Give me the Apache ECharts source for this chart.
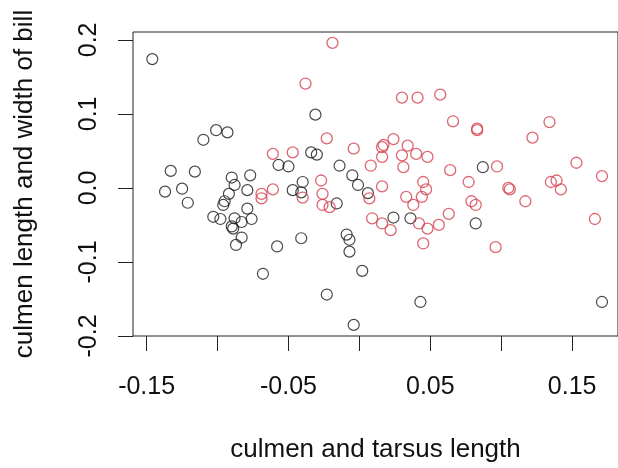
<!DOCTYPE html>
<html lang="en">
<head>
    <meta charset="UTF-8">
    <title>culmen scatter</title>
    <script src="https://cdn.jsdelivr.net/npm/echarts@6/dist/echarts.min.js"></script>
    <style>
        html, body { margin: 0; padding: 0; background: #fff; }
        #chart { width: 618px; height: 468px; }
    </style>
</head>
<body>
    <div id="chart"></div>
    <script>
        // black group
        var blackX = [-0.146, -0.110, -0.101, -0.093, -0.057, -0.050, -0.133, -0.116, -0.090, -0.077,
            -0.137, -0.125, -0.121, -0.088, -0.079, -0.092, -0.095, -0.096, -0.103, -0.098,
            -0.088, -0.079, -0.076, -0.083, -0.090, -0.089, -0.083, -0.087, -0.058, -0.068,
            -0.031, -0.034, -0.030, -0.014, -0.047, -0.040, -0.041, -0.016, -0.005, -0.001,
            0.006, 0.024, 0.036, -0.041, -0.009, -0.007, -0.007, 0.002, -0.023, 0.043,
            -0.004, 0.087, 0.082, 0.171];
        var blackY = [0.174, 0.065, 0.078, 0.075, 0.031, 0.029, 0.023, 0.022, 0.014, 0.017,
            -0.005, -0.001, -0.020, 0.004, -0.003, -0.008, -0.018, -0.023, -0.039, -0.042,
            -0.041, -0.028, -0.042, -0.046, -0.052, -0.055, -0.067, -0.077, -0.079, -0.116,
            0.099, 0.048, 0.045, 0.030, -0.003, 0.008, -0.006, -0.021, 0.017, 0.004,
            -0.007, -0.040, -0.041, -0.068, -0.063, -0.070, -0.086, -0.112, -0.144, -0.154,
            -0.185, 0.028, -0.048, -0.154];
        // red group
        var redX = [-0.019, -0.038, 0.030, 0.041, 0.057, 0.066, 0.083, 0.083, 0.122, 0.134,
            -0.023, -0.061, -0.047, -0.004, 0.016, 0.017, 0.024, 0.016, 0.030, 0.034,
            0.040, 0.048, 0.031, 0.064, 0.008, 0.153, 0.097, 0.171, 0.077, 0.105,
            0.106, 0.117, 0.135, 0.139, 0.142, 0.079, 0.082, 0.166, 0.096, -0.027,
            -0.026, -0.026, -0.021, -0.069, -0.069, -0.061, -0.040, 0.007, 0.016, 0.045,
            0.047, 0.044, 0.033, 0.038, 0.009, 0.016, 0.022, 0.042, 0.048, 0.056,
            0.063, 0.045];
        var redY = [0.196, 0.141, 0.122, 0.122, 0.126, 0.090, 0.080, 0.078, 0.068, 0.089,
            0.067, 0.046, 0.048, 0.053, 0.055, 0.058, 0.066, 0.042, 0.044, 0.057,
            0.046, 0.042, 0.028, 0.024, 0.030, 0.034, 0.029, 0.016, 0.008, 0.000,
            -0.002, -0.018, 0.008, 0.010, -0.002, -0.018, -0.023, -0.042, -0.080, 0.010,
            -0.008, -0.023, -0.026, -0.008, -0.014, -0.002, -0.013, -0.014, 0.002, 0.008,
            -0.002, -0.012, -0.012, -0.023, -0.041, -0.048, -0.057, -0.048, -0.055, -0.050,
            -0.035, -0.075];

        var xTicks = [-0.15, -0.1, -0.05, 0, 0.05, 0.1, 0.15];
        var xLabels = [-0.15, -0.05, 0.05, 0.15];
        var yTicks = [-0.2, -0.1, 0, 0.1, 0.2];

        function zip(xs, ys) {
            var out = [];
            for (var i = 0; i < xs.length; i++) out.push([xs[i], ys[i]]);
            return out;
        }

        var font = "'Liberation Sans', Arial, sans-serif";
        var chart = echarts.init(document.getElementById('chart'));
        chart.setOption({
            backgroundColor: '#fff',
            animation: false,
            grid: {
                left: 133, top: 32, width: 490, height: 307,
                show: true, borderColor: '#222', borderWidth: 1
            },
            xAxis: {
                type: 'value',
                min: -0.1596, max: 0.1823,
                splitLine: { show: false },
                axisLine: { show: false, onZero: false },
                axisTick: { show: true, inside: false, length: 15, customValues: xTicks,
                    lineStyle: { color: '#222', width: 1 } },
                axisLabel: { customValues: xLabels, margin: 39, fontSize: 25, color: '#111',
                    fontFamily: font, formatter: function (v) { return v.toFixed(2); } },
                name: 'culmen and tarsus length',
                nameLocation: 'middle', nameGap: 101,
                nameTextStyle: { fontSize: 26, color: '#111', fontFamily: font }
            },
            yAxis: {
                type: 'value',
                min: -0.2, max: 0.2106,
                splitLine: { show: false },
                axisLine: { show: false, onZero: false },
                axisTick: { show: true, inside: false, length: 15, customValues: yTicks,
                    lineStyle: { color: '#222', width: 1 } },
                axisLabel: { customValues: yTicks, rotate: 90, margin: 31, fontSize: 25, color: '#111',
                    fontFamily: font, formatter: function (v) { return v.toFixed(1); } },
                name: 'culmen length and width of bill',
                nameLocation: 'middle', nameGap: 95,
                nameTextStyle: { fontSize: 26, color: '#111', fontFamily: font }
            },
            series: [{
                type: 'scatter',
                data: zip(blackX, blackY),
                symbol: 'circle', symbolSize: 11,
                itemStyle: { color: 'rgba(0,0,0,0)', borderColor: '#1a1a1a', borderWidth: 1.2 },
                emphasis: { disabled: true }
            }, {
                type: 'scatter',
                data: zip(redX, redY),
                symbol: 'circle', symbolSize: 11,
                itemStyle: { color: 'rgba(0,0,0,0)', borderColor: '#D6404F', borderWidth: 1.3 },
                emphasis: { disabled: true }
            }]
        });
    </script>
</body>
</html>
